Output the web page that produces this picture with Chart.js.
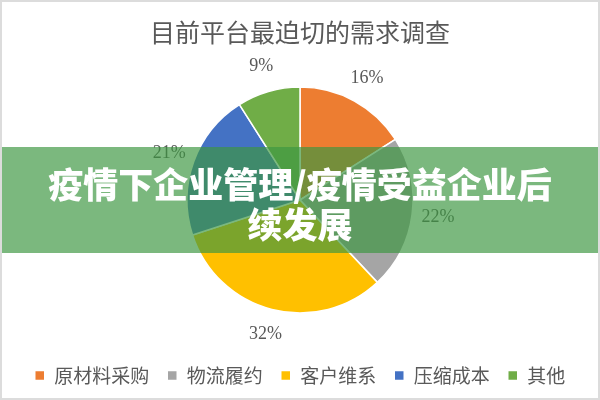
<!DOCTYPE html>
<html>
<head>
<meta charset="utf-8">
<script src="https://cdn.jsdelivr.net/npm/chart.js@4/dist/chart.umd.min.js"></script>
<style>
  html, body { margin: 0; padding: 0; background: #ffffff; }
  #wrap { position: relative; width: 600px; height: 400px; overflow: hidden; }
  #frame { position: absolute; left: 0; top: 0; width: 600px; height: 400px; box-sizing: border-box; border: 2px solid #dcdcdc; pointer-events: none; }
  #banner { position: absolute; left: 0; top: 147px; width: 600px; height: 106px; background: rgba(60,150,65,0.68);
    color: #ffffff; font-family: "Noto Sans CJK SC", sans-serif; font-weight: 900; font-size: 35px; line-height: 40px;
    text-align: center; box-sizing: border-box; padding-top: 16px; pointer-events: none; }
</style>
</head>
<body>
<div id="wrap">
  <canvas id="c" width="600" height="400"></canvas>
  <div id="banner">疫情下企业管理/疫情受益企业后<br>续发展</div>
  <div id="frame"></div>
</div>
<script>
const titleText = "目前平台最迫切的需求调查";
const categories = ["原材料采购", "物流履约", "客户维系", "压缩成本", "其他"];
const shares = [16, 22, 32, 21, 9];
const sliceColors = ["#ED7D31", "#A5A5A5", "#FFC000", "#4472C4", "#70AD47"];

const outsideLabels = {
  id: "outsideLabels",
  afterDatasetsDraw(chart) {
    const ctx = chart.ctx;
    const meta = chart.getDatasetMeta(0);
    ctx.save();
    ctx.font = '18px "Liberation Serif", serif';
    ctx.fillStyle = "#595959";
    ctx.textAlign = "center";
    ctx.textBaseline = "middle";
    meta.data.forEach((arc, i) => {
      const p = arc.getProps(["x", "y", "startAngle", "endAngle", "outerRadius"], true);
      const mid = (p.startAngle + p.endAngle) / 2;
      const r = p.outerRadius + 26;
      ctx.fillText(shares[i] + "%", p.x + Math.cos(mid) * r, p.y + Math.sin(mid) * r);
    });
    ctx.restore();
  }
};

new Chart(document.getElementById("c"), {
  type: "pie",
  data: {
    labels: categories,
    datasets: [{
      data: shares,
      backgroundColor: sliceColors,
      borderColor: "#ffffff",
      borderWidth: 1.5,
      radius: 113
    }]
  },
  options: {
    responsive: false,
    animation: false,
    layout: { padding: { bottom: 5 } },
    plugins: {
      title: {
        display: true,
        text: titleText,
        color: "#595959",
        font: { family: '"Noto Sans CJK SC", sans-serif', size: 25, weight: "normal" },
        padding: { top: 17, bottom: 5 }
      },
      legend: {
        position: "bottom",
        labels: {
          color: "#595959",
          font: { family: '"Noto Sans CJK SC", sans-serif', size: 19 },
          boxWidth: 10,
          boxHeight: 10,
          padding: 18
        }
      },
      tooltip: { enabled: false }
    }
  },
  plugins: [outsideLabels]
});
</script>
</body>
</html>
